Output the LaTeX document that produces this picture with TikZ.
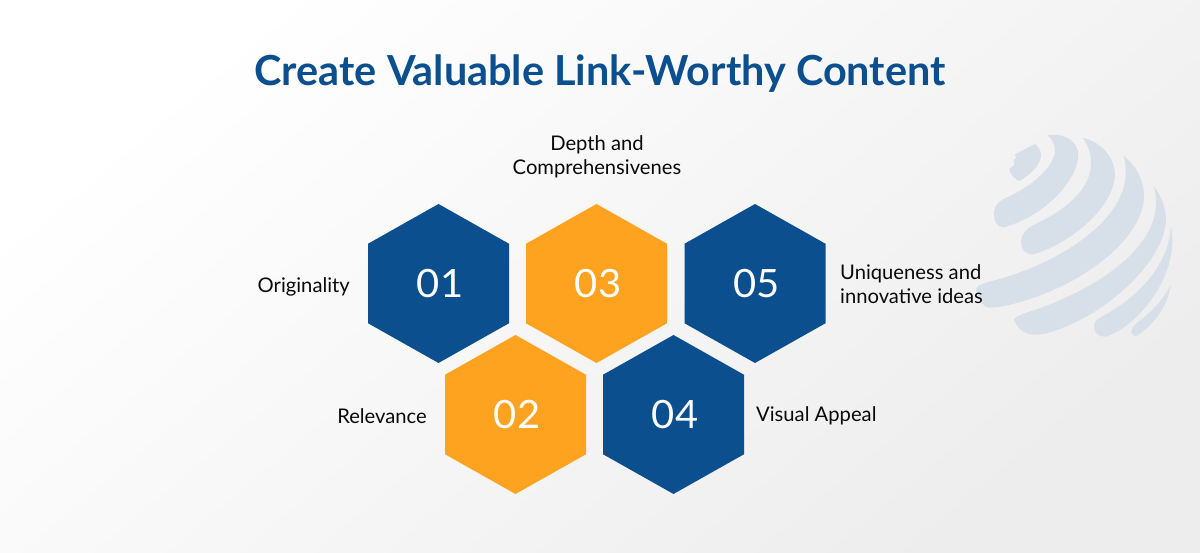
\documentclass[tikz,border=0pt]{standalone}
\usepackage{fontspec}
\setmainfont{Lato}
\usepackage{tikz}
\usetikzlibrary{shapes.geometric}
\definecolor{hexblue}{HTML}{0B4F8E}
\definecolor{hexorange}{HTML}{FDA31F}
\definecolor{globegrey}{HTML}{D7E0E9}
\definecolor{labeltext}{HTML}{0A0A0A}
\newcommand{\hexnum}[1]{\kern3pt #1}
\tikzstyle{hexa}=[
        regular polygon,
        regular polygon sides=6,
        shape border rotate=30,
        minimum size=159pt,
        inner sep=0pt,
        outer sep=0pt,
        xscale=1.024,
        transform shape,
        text=white,
        text height=29pt,
        text depth=0pt,
        font=\fontsize{39}{39}\selectfont
]
\tikzstyle{hexb}=[hexa,fill=hexblue]
\tikzstyle{hexo}=[hexa,fill=hexorange]
\tikzstyle{lab}=[text=labeltext,inner sep=0pt,font=\fontsize{20.2}{24}\selectfont]
\tikzstyle{globe}=[fill=globegrey,draw=none]
\begin{document}
\begin{tikzpicture}[x=1pt,y=1pt]
\useasboundingbox (0,0) rectangle (1200,552);
\shade[shading=axis,top color=white,bottom color=black!7,shading angle=40] (0,0) rectangle (1200,552);
%Globe
\begin{scope}[shift={(960,432)},x=0.3333pt,y=-0.3333pt]
\fill[globe] (225,72) -- (165,103) -- (168,115) -- (160,120) -- (163,135) -- (147,147) .. controls (152,165) and (165,178) .. (178,183) .. controls (210,165) and (243,135) .. (243,105) .. controls (243,92) and (235,80) .. (225,72) -- cycle;
\fill[globe] (262,45) -- (295,45) .. controls (330,50) and (355,75) .. (355,105) .. controls (352,190) and (240,295) .. (130,322) .. controls (110,322) and (100,300) .. (102,275) .. controls (105,255) and (115,245) .. (135,235) .. controls (215,200) and (285,140) .. (285,90) .. controls (285,72) and (275,55) .. (262,45) -- cycle;
\fill[globe] (367,53) .. controls (425,65) and (465,115) .. (465,165) .. controls (460,270) and (320,375) .. (220,403) .. controls (195,405) and (182,385) .. (183,365) .. controls (185,340) and (200,325) .. (220,315) .. controls (320,270) and (393,205) .. (393,130) .. controls (393,100) and (385,75) .. (367,53) -- cycle;
\fill[globe] (492,108) .. controls (530,140) and (552,180) .. (552,230) .. controls (550,340) and (410,465) .. (230,530) .. controls (170,552) and (110,565) .. (85,563) .. controls (65,560) and (50,520) .. (48,505) .. controls (55,495) and (75,488) .. (100,482) .. controls (300,430) and (497,300) .. (497,160) .. controls (497,140) and (496,125) .. (492,108) -- cycle;
\fill[globe] (582,200) .. controls (605,230) and (618,265) .. (618,300) .. controls (615,420) and (440,590) .. (260,640) .. controls (220,650) and (180,645) .. (162,600) .. controls (165,590) and (180,585) .. (200,578) .. controls (400,515) and (588,390) .. (588,250) .. controls (588,232) and (586,215) .. (582,200) -- cycle;
\fill[globe] (633,320) .. controls (640,350) and (638,385) .. (630,420) .. controls (610,510) and (530,615) .. (440,650) .. controls (420,652) and (402,640) .. (402,620) .. controls (402,605) and (412,597) .. (425,590) .. controls (530,535) and (625,440) .. (633,320) -- cycle;
\fill[globe] (632,495) .. controls (625,555) and (585,610) .. (535,645) .. controls (525,652) and (514,645) .. (514,635) .. controls (514,625) and (522,618) .. (530,610) .. controls (570,580) and (610,540) .. (632,495) -- cycle;
\end{scope}
%Title
\node[text=hexblue,font=\fontsize{41.4}{42}\selectfont\bfseries] (title) at (600,478) {Create Valuable Link-Worthy Content};
%Hexagons
\node[hexb] (h1) at (438.5,268.5) {\hexnum{01}};
\node[hexo] (h3) at (596.5,268.5) {\hexnum{03}};
\node[hexb] (h5) at (755,268.5) {\hexnum{05}};
\node[hexo] (h2) at (515.5,137.5) {\hexnum{02}};
\node[hexb] (h4) at (673.5,137.5) {\hexnum{04}};
%Labels
\node[lab,align=center] (l3) at (597,395.5) {Depth and\\Comprehensivenes};
\node[lab,anchor=east] (l1) at (350,265) {Originality};
\node[lab,anchor=east] (l2) at (427,136) {Relevance};
\node[lab,anchor=west,align=left] (l5) at (840,268) {Uniqueness and\\innovative ideas};
\node[lab,anchor=west] (l4) at (756,136) {Visual Appeal};
\end{tikzpicture}
\end{document}
